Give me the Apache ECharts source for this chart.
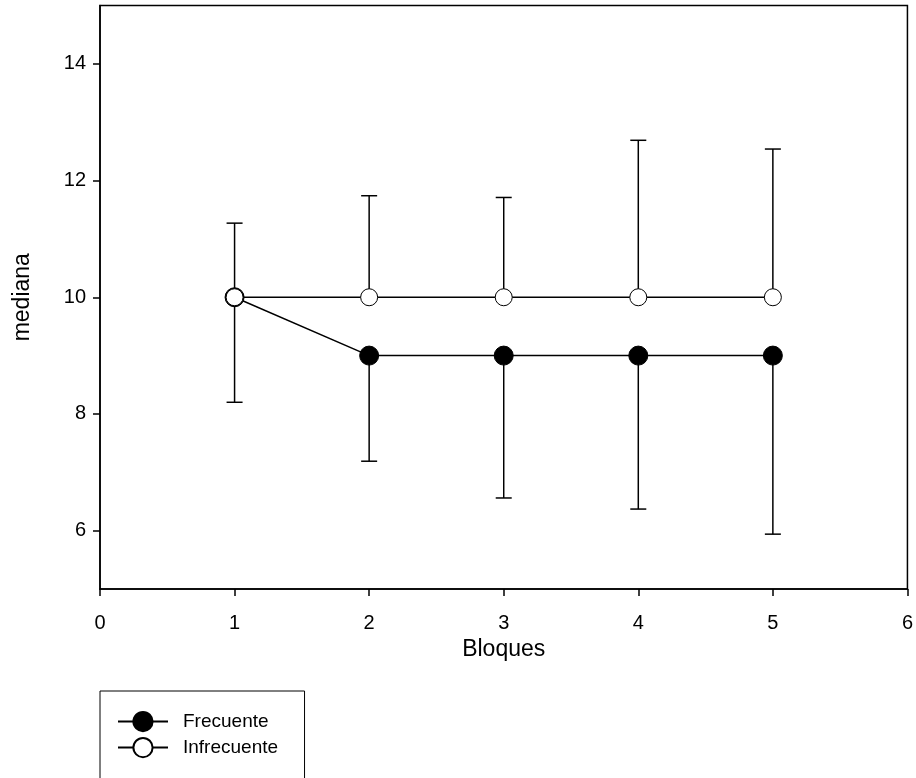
<!DOCTYPE html>
<html>
<head>
<meta charset="utf-8">
<script src="https://cdn.jsdelivr.net/npm/echarts@6/dist/echarts.min.js"></script>
<style>
html,body{margin:0;padding:0;background:#fff;}
#chart{width:916px;height:778px;}
</style>
</head>
<body>
<div id="chart"></div>
<script>
const bloques = [1, 2, 3, 4, 5];
const frecuente = [10, 9, 9, 9, 9];
const infrecuente = [10, 10, 10, 10, 10];
const frecuenteLow = [8.2, 7.19, 6.56, 6.37, 5.94];
const infrecuenteHigh = [11.27, 11.74, 11.71, 12.69, 12.54];
const xTicks = [0, 1, 2, 3, 4, 5, 6];
const yTicks = [6, 8, 10, 12, 14];

const FONT = 'Liberation Sans, Arial, sans-serif';

function errRender(params, api) {
  const x = api.value(0), y = api.value(1), e = api.value(2);
  const p0 = api.coord([x, y]);
  const p1 = api.coord([x, e]);
  const hw = 8;
  return {
    type: 'group',
    children: [
      {type: 'line', shape: {x1: p0[0], y1: p0[1], x2: p1[0], y2: p1[1]}, style: {stroke: '#000', lineWidth: 1.5}},
      {type: 'line', shape: {x1: p1[0] - hw, y1: p1[1], x2: p1[0] + hw, y2: p1[1]}, style: {stroke: '#000', lineWidth: 1.5}}
    ]
  };
}

const legendCommon = {
  itemWidth: 50, itemHeight: 24,
  textStyle: {fontSize: 19, color: '#000', fontFamily: FONT, padding: [0, 0, 0, 10]}
};

const chart = echarts.init(document.getElementById('chart'), null, {renderer: 'canvas'});
chart.setOption({
  animation: false,
  backgroundColor: '#fff',
  textStyle: {fontFamily: FONT, color: '#000'},
  grid: {left: 100, right: 7, top: 5.5, bottom: 189, show: true, borderColor: '#000', borderWidth: 1.5, backgroundColor: 'transparent'},
  xAxis: {
    type: 'value', min: 0, max: 6, interval: 1,
    name: 'Bloques', nameLocation: 'middle', nameGap: 47,
    nameTextStyle: {fontSize: 23, color: '#000', fontFamily: FONT},
    axisLine: {lineStyle: {color: '#000', width: 1.5}},
    axisTick: {show: true, length: 7, lineStyle: {color: '#000', width: 1.5}, customValues: xTicks},
    axisLabel: {fontSize: 20, color: '#000', margin: 24, fontFamily: FONT, customValues: xTicks},
    splitLine: {show: false}
  },
  yAxis: {
    type: 'value', min: 5, max: 15,
    name: 'mediana', nameLocation: 'middle', nameGap: 66,
    nameTextStyle: {fontSize: 23, color: '#000', fontFamily: FONT},
    axisLine: {lineStyle: {color: '#000', width: 1.5}},
    axisTick: {show: true, length: 7, lineStyle: {color: '#000', width: 1.5}, customValues: yTicks},
    axisLabel: {fontSize: 20, color: '#000', margin: 14, fontFamily: FONT, customValues: yTicks},
    splitLine: {show: false}
  },
  legend: [
    Object.assign({
      data: ['Frecuente'],
      left: 100, top: 691,
      padding: [20, 36, 80, 17],
      borderColor: '#000', borderWidth: 1
    }, legendCommon),
    Object.assign({
      data: ['Infrecuente'],
      left: 117, top: 737,
      padding: 0
    }, legendCommon)
  ],
  series: [
    {
      type: 'custom', name: 'errF', renderItem: errRender, z: 1, silent: true,
      data: bloques.map((b, i) => [b, frecuente[i], frecuenteLow[i]])
    },
    {
      type: 'custom', name: 'errI', renderItem: errRender, z: 1, silent: true,
      data: bloques.map((b, i) => [b, infrecuente[i], infrecuenteHigh[i]])
    },
    {
      type: 'line', name: 'Frecuente', z: 2,
      data: bloques.map((b, i) => [b, frecuente[i]]),
      symbol: 'circle', symbolSize: 19,
      lineStyle: {color: '#000', width: 1.5},
      itemStyle: {color: '#000', borderColor: '#000', borderWidth: 1}
    },
    {
      type: 'line', name: 'Infrecuente', z: 3,
      data: bloques.map((b, i) => [b, infrecuente[i]]),
      symbol: 'circle', symbolSize: 17,
      lineStyle: {color: '#000', width: 1.5},
      itemStyle: {color: '#fff', borderColor: '#000', borderWidth: 1}
    }
  ]
});
</script>
</body>
</html>
